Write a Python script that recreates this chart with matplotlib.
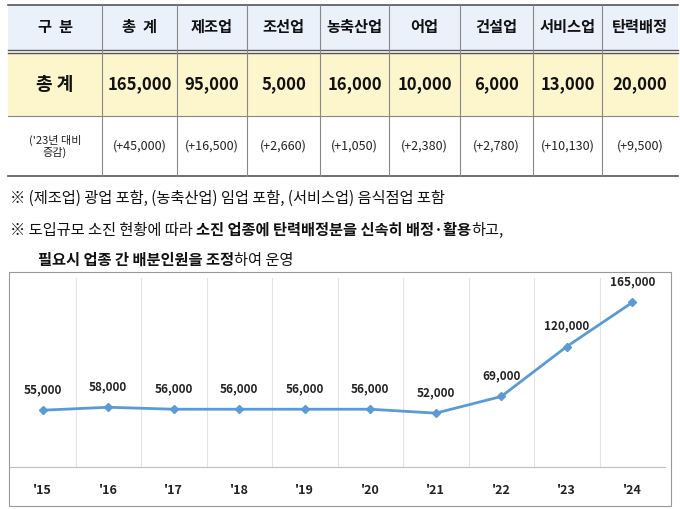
import matplotlib
matplotlib.use("Agg")
import matplotlib.pyplot as plt
from matplotlib import font_manager
from matplotlib.patches import Rectangle
import numpy as np

# 한글 폰트 찾기
_names = {f.name for f in font_manager.fontManager.ttflist}
_kr = [n for n in ["Noto Sans CJK KR", "Noto Sans CJK JP", "Noto Sans CJK SC", "Noto Sans CJK TC"] if n in _names]
plt.rcParams["font.family"] = (_kr[:1] or []) + ["DejaVu Sans"]

W, H = 680, 509

# 표 데이터
headers = ["구  분", "총  계", "제조업", "조선업", "농축산업", "어업", "건설업", "서비스업", "탄력배정"]
totals = ["총 계", "165,000", "95,000", "5,000", "16,000", "10,000", "6,000", "13,000", "20,000"]
changes = ["('23년 대비\n증감)", "(+45,000)", "(+16,500)", "(+2,660)", "(+1,050)", "(+2,380)",
           "(+2,780)", "(+10,130)", "(+9,500)"]

# 연도별 도입규모
years = ["'15", "'16", "'17", "'18", "'19", "'20", "'21", "'22", "'23", "'24"]
quota = [55000, 58000, 56000, 56000, 56000, 56000, 52000, 69000, 120000, 165000]

fig = plt.figure(figsize=(W / 100, H / 100), dpi=100)
bg = fig.add_axes([0, 0, 1, 1])
bg.set_xlim(0, W)
bg.set_ylim(H, 0)
bg.axis("off")

# ── 표 ──
col_x = [8, 102, 177, 247, 320, 389, 460, 533, 602, 678]
rows = [(5, 50, "#eaf1fb"), (54, 116, "#fdf5cc"), (116, 176, "white")]
for (y0, y1, c) in rows:
    bg.add_patch(Rectangle((col_x[0], y0), col_x[-1] - col_x[0], y1 - y0, color=c, lw=0))
bg.plot([8, 678], [5, 5], color="#555555", lw=1.2)
bg.plot([8, 678], [50, 50], color="#555555", lw=1.0)
bg.plot([8, 678], [53, 53], color="#555555", lw=1.0)
bg.plot([8, 678], [116, 116], color="#888888", lw=0.8)
bg.plot([8, 678], [176, 176], color="#555555", lw=1.2)
for x in col_x[1:-1]:
    bg.plot([x, x], [5, 176], color="#888888", lw=0.8)

for i in range(9):
    cx = (col_x[i] + col_x[i + 1]) / 2
    bg.text(cx, 27, headers[i], ha="center", va="center", fontsize=11, fontweight="bold", color="#111111")
    bg.text(cx, 84, totals[i], ha="center", va="center", fontsize=12 if i else 13,
            fontweight="bold", color="#111111")
    bg.text(cx, 146, changes[i], ha="center", va="center", fontsize=8 if i == 0 else 9,
            color="#222222", linespacing=1.1)

# ── 주석 ──
def rich_line(x, y, parts, size=11):
    fig.canvas.draw()
    r = fig.canvas.get_renderer()
    for txt, bold in parts:
        t = bg.text(x, y, txt, ha="left", va="center", fontsize=size,
                    fontweight="bold" if bold else "normal", color="#111111")
        bb = t.get_window_extent(renderer=r)
        x += bb.width

rich_line(10, 198, [("※ (제조업) 광업 포함, (농축산업) 임업 포함, (서비스업) 음식점업 포함", False)])
rich_line(10, 230, [("※ 도입규모 소진 현황에 따라 ", False), ("소진 업종에 탄력배정분을 신속히 배정·활용", True),
                    ("하고,", False)])
rich_line(38, 260, [("필요시 업종 간 배분인원을 조정", True), ("하여 운영", False)])

# ── 차트 테두리 ──
bg.add_patch(Rectangle((9, 272), 662, 234, fill=False, ec="#999999", lw=0.8))

ax = fig.add_axes([10 / W, 1 - 467 / H, 655 / W, (467 - 278) / H])
x = np.arange(len(years))
ax.set_xlim(-0.5, len(years) - 0.5)
ax.set_ylim(-3000, 190000)
for b in np.arange(0.5, len(years) - 1, 1):
    ax.axvline(b, color="#e3e3e3", lw=0.8)
ax.plot(x, quota, color="#5b9bd5", lw=2, marker="D", ms=4)
for xi, v in zip(x, quota):
    ax.annotate(f"{v:,}", (xi, v), xytext=(0, 10), textcoords="offset points",
                ha="center", va="bottom", fontsize=8.5, fontweight="bold", color="#222222")
for s in ["top", "right", "left"]:
    ax.spines[s].set_visible(False)
ax.spines["bottom"].set_color("#bfbfbf")
ax.set_yticks([])
ax.set_xticks(x)
ax.set_xticklabels(years, fontsize=9, fontweight="bold", color="#222222")
ax.tick_params(axis="x", length=0, pad=12)
ax.patch.set_alpha(0)

fig.savefig("out.png", dpi=100)
